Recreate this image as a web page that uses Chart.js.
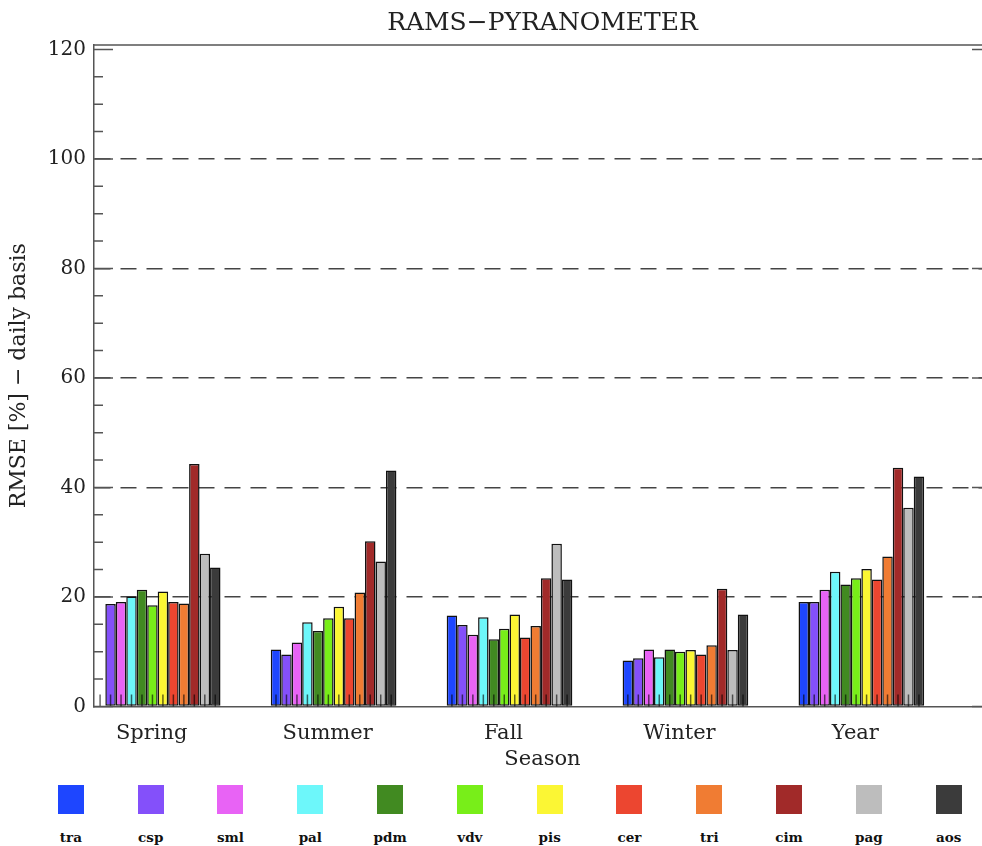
<!DOCTYPE html>
<html>
<head>
<meta charset="utf-8">
<title>RAMS-PYRANOMETER</title>
<script src="https://cdn.jsdelivr.net/npm/chart.js@4.4.1/dist/chart.umd.min.js"></script>
<style>
  html, body { margin: 0; padding: 0; background: #fff; overflow: hidden; width: 982px; height: 846px; }
  #wrap { position: relative; width: 982px; height: 846px; overflow: hidden; }
  #chart { position: absolute; left: 0; top: 0; }
  #legend { position: absolute; left: 31px; top: 785px; display: flex; }
  .item { width: 79.8px; text-align: center; }
  .box { display: inline-block; width: 26px; height: 29px; }
  .lbl { font: bold 13.5px "DejaVu Serif"; line-height: 13px; margin-top: 13px; color: #111; }
</style>
</head>
<body>
<div id="wrap">
  <canvas id="chart" width="1000" height="775"></canvas>
  <div id="legend"></div>
</div>
<script>
// categories
const seasons = ['Spring', 'Summer', 'Fall', 'Winter', 'Year'];
const stations = ['tra', 'csp', 'sml', 'pal', 'pdm', 'vdv', 'pis', 'cer', 'tri', 'cim', 'pag', 'aos'];
const stationColors = [
    '#1E46FF', // tra  blue
    '#8450FA', // csp  purple
    '#E863F5', // sml  magenta
    '#6DF7FA', // pal  cyan
    '#418A21', // pdm  dark green
    '#78EE19', // vdv  light green
    '#FBF634', // pis  yellow
    '#EC4630', // cer  red
    '#F07C33', // tri  orange
    '#A12A29', // cim  dark red
    '#BDBDBD', // pag  grey
    '#3B3B3B'  // aos  dark grey
];

// RMSE [%] per station, one value per season (Spring..Year)
const tra = [null, 10.4, 16.6, 8.4, 19.1];
const csp = [18.7, 9.5, 14.9, 8.8, 19.1];
const sml = [19.1, 11.7, 13.1, 10.4, 21.3];
const pal = [20.1, 15.4, 16.3, 9.0, 24.6];
const pdm = [21.3, 13.8, 12.3, 10.4, 22.3];
const vdv = [18.5, 16.1, 14.2, 10.0, 23.4];
const pis = [21.0, 18.2, 16.8, 10.3, 25.1];
const cer = [19.1, 16.1, 12.6, 9.5, 23.2];
const tri = [18.8, 20.8, 14.7, 11.2, 27.4];
const cim = [44.3, 30.2, 23.4, 21.5, 43.6];
const pag = [27.9, 26.5, 29.7, 10.3, 36.3];
const aos = [25.4, 43.1, 23.2, 16.8, 42.0];
const rmseByStation = [tra, csp, sml, pal, pdm, vdv, pis, cer, tri, cim, pag, aos];

// tick labels
const yTickValues = [0, 20, 40, 60, 80, 100, 120];

const FONT = 'DejaVu Serif';
const TEXT = '#222';
const AXIS = '#555';

// IDL style frame: top line, inward ticks on both sides, little ticks under every bar
const framePlugin = {
    id: 'frame',
    afterDatasetsDraw(chart) {
        const { ctx, scales: { y } } = chart;
        const base = y.getPixelForValue(0);
        ctx.save();
        ctx.strokeStyle = 'rgba(0,0,0,0.6)';
        ctx.lineWidth = 1.5;
        chart.data.datasets.forEach((d, i) => {
            chart.getDatasetMeta(i).data.forEach(bar => {
                if (!isFinite(bar.x)) return;
                ctx.beginPath();
                ctx.moveTo(bar.x, base);
                ctx.lineTo(bar.x, base - 12);
                ctx.stroke();
            });
        });
        ctx.restore();
    },
    afterDraw(chart) {
        const { ctx, chartArea: { left, right, top, bottom }, scales: { y } } = chart;
        ctx.save();
        ctx.strokeStyle = AXIS;
        ctx.lineWidth = 1.5;
        ctx.beginPath();
        ctx.moveTo(left, top);
        ctx.lineTo(right, top);
        ctx.moveTo(right, top);
        ctx.lineTo(right, bottom);
        ctx.stroke();
        for (let v = 0; v <= 120; v += 5) {
            const py = y.getPixelForValue(v);
            const len = v % 20 === 0 ? 19 : 9;
            ctx.beginPath();
            ctx.moveTo(left, py);
            ctx.lineTo(left + len, py);
            ctx.moveTo(right, py);
            ctx.lineTo(right - len, py);
            ctx.stroke();
        }
        ctx.restore();
    }
};

const chart = new Chart(document.getElementById('chart').getContext('2d'), {
    type: 'bar',
    data: {
        datasets: stations.map((name, s) => ({
            label: name,
            data: seasons.map((season, i) => ({ x: i, y: rmseByStation[s][i] })),
            backgroundColor: stationColors[s],
            borderColor: '#111',
            borderWidth: 1.5,
            borderSkipped: false,
            categoryPercentage: 0.7143,
            barPercentage: 1
        }))
    },
    options: {
        responsive: false,
        animation: false,
        layout: { padding: { left: 0, right: 9, top: 0, bottom: 0 } },
        plugins: {
            legend: { display: false },
            tooltip: { enabled: false },
            title: {
                display: true,
                text: 'RAMS\u2212PYRANOMETER',
                fullSize: false,
                color: TEXT,
                font: { family: FONT, size: 25, weight: 'normal' },
                padding: { top: 8, bottom: 7 }
            }
        },
        scales: {
            x: {
                type: 'linear',
                min: -0.362,
                max: 4.737,
                offset: false,
                afterBuildTicks: scale => { scale.ticks = seasons.map((s, i) => ({ value: i })); },
                afterFit: scale => { scale.height = 68.5; },
                grid: { display: false, drawTicks: false },
                border: { display: true, color: AXIS, width: 1.5 },
                ticks: {
                    callback: (value, index) => seasons[index],
                    padding: 14,
                    labelOffset: -6,
                    autoSkip: false,
                    maxRotation: 0,
                    color: TEXT,
                    font: { family: FONT, size: 21 }
                },
                title: {
                    display: true,
                    text: 'Season',
                    color: TEXT,
                    font: { family: FONT, size: 21 },
                    padding: { top: 0, bottom: 3 }
                }
            },
            y: {
                min: 0,
                max: 120.8,
                afterBuildTicks: scale => { scale.ticks = yTickValues.map(v => ({ value: v })); },
                afterFit: scale => { scale.width = 94; },
                grid: {
                    drawTicks: false,
                    lineWidth: 1.5,
                    color: c => (c.tick && c.tick.value > 0 && c.tick.value < 120) ? '#444' : 'rgba(0,0,0,0)'
                },
                border: { display: true, color: AXIS, width: 1.5, dash: [16, 10] },
                ticks: {
                    padding: 8,
                    autoSkip: false,
                    color: TEXT,
                    font: { family: FONT, size: 20 }
                },
                title: {
                    display: true,
                    text: 'RMSE [%] \u2212 daily basis',
                    color: TEXT,
                    font: { family: FONT, size: 22 },
                    padding: { top: 6, bottom: 0 }
                }
            }
        }
    },
    plugins: [framePlugin]
});

// legend: coloured square with the station name under it
document.getElementById('legend').innerHTML = stations.map((name, i) => `
    <div class="item">
        <span class="box" style="background:${stationColors[i]}"></span>
        <div class="lbl">${name}</div>
    </div>`).join('');
</script>
</body>
</html>
